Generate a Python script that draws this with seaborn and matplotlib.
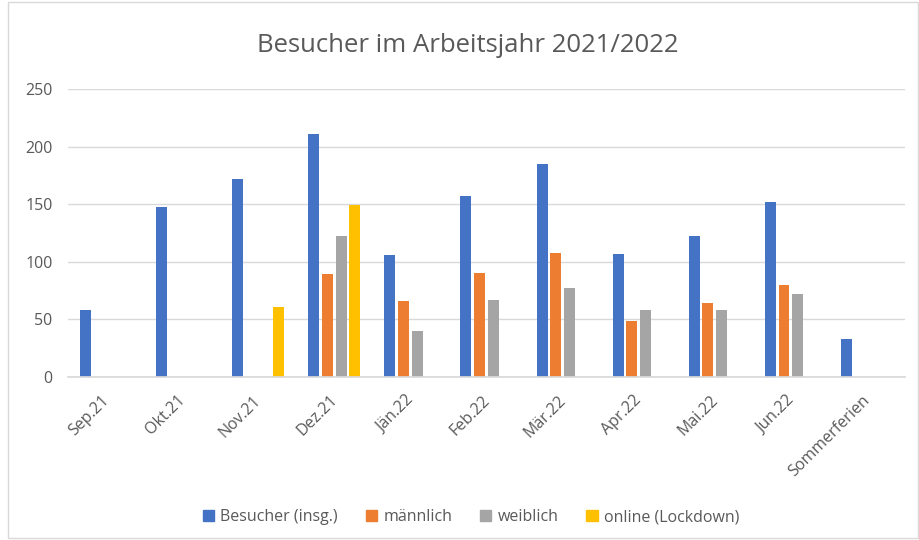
import matplotlib
matplotlib.use("Agg")
import matplotlib.pyplot as plt
import seaborn as sns
import pandas as pd
import numpy as np
from matplotlib.patches import Rectangle
from matplotlib.transforms import ScaledTranslation

months = ["Sep.21", "Okt.21", "Nov.21", "Dez.21", "Jän.22", "Feb.22", "Mär.22",
          "Apr.22", "Mai.22", "Jun.22", "Sommerferien"]
besucher = [58, 148, 172, 211, 106, 157, 185, 107, 122, 152, 33]
maennlich = [np.nan, np.nan, np.nan, 89, 66, 90, 108, 49, 64, 80, np.nan]
weiblich = [np.nan, np.nan, np.nan, 122, 40, 67, 77, 58, 58, 72, np.nan]
online = [np.nan, np.nan, 61, 149, np.nan, np.nan, np.nan, np.nan, np.nan, np.nan, np.nan]
series_names = ["Besucher (insg.)", "männlich", "weiblich", "online (Lockdown)"]
colors = ["#4472C4", "#ED7D31", "#A5A5A5", "#FFC000"]
yticks = [0, 50, 100, 150, 200, 250]

df = pd.DataFrame({"Monat": months, series_names[0]: besucher, series_names[1]: maennlich,
                   series_names[2]: weiblich, series_names[3]: online})
long = df.melt(id_vars="Monat", var_name="Serie", value_name="Wert").dropna()

sns.set_theme(style="white")
plt.rcParams['font.family'] = ['Open Sans', 'DejaVu Sans']

fig = plt.figure(figsize=(9.2, 5.4), dpi=100)
ax = fig.add_axes([68/920, 1-377/540, (905-68)/920, (377-89)/540])

sns.barplot(data=long, x="Monat", y="Wert", hue="Serie", order=months,
            hue_order=series_names, palette=colors, width=0.72, gap=0.2,
            linewidth=0, ax=ax, errorbar=None, saturation=1)

ax.set_ylim(0, 250)
ax.set_yticks(yticks)
ax.set_xlim(-0.5, len(months) - 0.5)
ax.yaxis.grid(True, color="#D9D9D9", linewidth=1)
ax.set_axisbelow(True)
for s in ["left", "right", "top"]:
    ax.spines[s].set_visible(False)
ax.spines["bottom"].set_color("#D9D9D9")
ax.tick_params(axis="both", length=0, colors="#595959", labelsize=11.5)
ax.tick_params(axis="y", pad=11)
ax.tick_params(axis="x", pad=11)
ax.set_xlabel("")
ax.set_ylabel("")
shift = ScaledTranslation(-5/100, 0, fig.dpi_scale_trans)
for lbl in ax.get_xticklabels():
    lbl.set_rotation(45)
    lbl.set_ha("right")
    lbl.set_rotation_mode("anchor")
    lbl.set_transform(lbl.get_transform() + shift)

ax.legend_.remove()
handles = [Rectangle((0, 0), 1, 1, color=c) for c in colors]
fig.legend(handles, series_names, loc="center", bbox_to_anchor=(471/920, 1-517/540),
           ncol=4, frameon=False, fontsize=11.5, handlelength=0.7, handleheight=0.7,
           handletextpad=0.4, columnspacing=1.75, labelcolor="#595959")

fig.text(468/920, 1-45/540, "Besucher im Arbeitsjahr 2021/2022", ha="center", va="center",
         fontsize=18.5, color="#595959")

fig.patches.append(Rectangle((8/920, 2/540), 910/920, 536/540, transform=fig.transFigure,
                             fill=False, edgecolor="#D9D9D9", linewidth=1))

fig.savefig("out.png", dpi=100)
